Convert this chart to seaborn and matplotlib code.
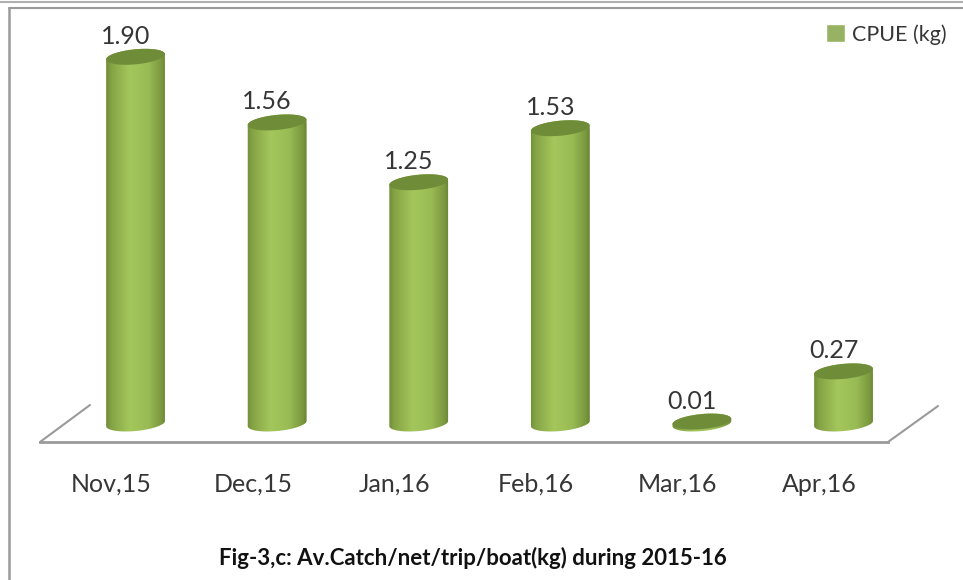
import numpy as np
import pandas as pd
import matplotlib
matplotlib.use("Agg")
import matplotlib.pyplot as plt
import seaborn as sns
from matplotlib.colors import LinearSegmentedColormap
from matplotlib.lines import Line2D
from matplotlib.patches import Polygon
from matplotlib.transforms import ScaledTranslation

# data
months = ["Nov,15", "Dec,15", "Jan,16", "Feb,16", "Mar,16", "Apr,16"]
cpue = [1.90, 1.56, 1.25, 1.53, 0.01, 0.27]
series_name = "CPUE (kg)"
title = "Fig-3,c: Av.Catch/net/trip/boat(kg) during 2015-16"

# pixel scale of the plot
W, H = 963, 580
STEP_PX = 141.6      # px between categories
UNIT_PX = 193.0      # px for one kg
X0_PX = 135.5        # px of first category
Y0_PX = 423.5        # px of zero

TEXT = "#363636"
FRAME = "#9a9a9a"
TOP_GREEN = "#6f8c38"
gradient = LinearSegmentedColormap.from_list(
    "cyl", [(0, "#6d8838"), (0.1, "#84a344"), (0.4, "#a4c75c"),
            (0.7, "#99bb54"), (0.92, "#7a973e"), (1, "#647d33")])

df = pd.DataFrame({"month": months, "cpue": cpue})

sns.set_theme(style="white")
plt.rcParams["font.family"] = ["Lato", "DejaVu Sans"]

fig = plt.figure(figsize=(W / 100, H / 100), dpi=100)
ax = fig.add_axes([0, 0, 1, 1])
ax.patch.set_alpha(0)

sns.barplot(data=df, x="month", y="cpue", color="#9bbf55", width=0.417,
            label=series_name, ax=ax)


def px_x(x):
    return (x - X0_PX) / STEP_PX


def px_y(y):
    return (Y0_PX - y) / UNIT_PX


def disc(xc, yc, t):
    # tilted ellipse end of a cylinder, in data units
    a, b, tilt = 29.5, 7.5, np.radians(5.5)
    dx = a * np.cos(t) * np.cos(tilt) - b * np.sin(t) * np.sin(tilt)
    dy = a * np.cos(t) * np.sin(tilt) + b * np.sin(t) * np.cos(tilt)
    return np.column_stack([xc + dx / STEP_PX, yc + dy / UNIT_PX])


bars = ax.containers[0]
for bar in bars:
    xc = bar.get_x() + bar.get_width() / 2
    h = bar.get_height()
    lower = disc(xc, 0, np.linspace(np.pi, 2 * np.pi, 40))
    upper = disc(xc, h, np.linspace(0, np.pi, 40))
    body = Polygon(np.vstack([lower, upper]), closed=True, fc="none", ec="none",
                   transform=ax.transData)
    ax.add_patch(body)
    bar.set_clip_path(body)
    img = ax.imshow(np.linspace(0, 1, 256).reshape(1, -1), cmap=gradient, aspect="auto",
                    extent=[bar.get_x() - 0.01, bar.get_x() + bar.get_width() + 0.01,
                            -0.1, h + 0.1], zorder=3)
    img.set_clip_path(body)
    ax.add_patch(Polygon(disc(xc, h, np.linspace(0, 2 * np.pi, 80)), closed=True,
                         fc=TOP_GREEN, ec="none", zorder=4))

labels = ax.bar_label(bars, fmt="%.2f", padding=6.5, fontsize=18, color=TEXT, zorder=5)
for t in labels:
    t.xyann = (-7.2, t.xyann[1])

# floor of the 3d chart
ax.set_xlim(px_x(0), px_x(W))
ax.set_ylim(px_y(H), px_y(0))
for side in ["top", "left", "right"]:
    ax.spines[side].set_visible(False)
floor = ax.spines["bottom"]
floor.set_position(("data", px_y(442)))
floor.set_bounds(px_x(40), px_x(888))
floor.set_color(FRAME)
floor.set_linewidth(2)
ax.plot([px_x(40), px_x(90)], [px_y(442), px_y(405)], color=FRAME, lw=1.5, zorder=1)
ax.plot([px_x(888), px_x(938)], [px_y(442), px_y(406)], color=FRAME, lw=1.5, zorder=1)

ax.set_xlabel("")
ax.set_ylabel("")
ax.set_yticks([])
ax.tick_params(axis="x", length=0, pad=22, labelsize=18, labelcolor=TEXT)
# category labels sit left of the cylinders in the original
shift = ScaledTranslation(-0.24, 0, fig.dpi_scale_trans)
for lab in ax.get_xticklabels():
    lab.set_transform(lab.get_transform() + shift)

ax.legend(loc="upper right", bbox_to_anchor=(1.003, 0.992), frameon=False, fontsize=15.5,
          handlelength=0.9, handleheight=0.9, handletextpad=0.3, labelcolor=TEXT)

fig.text(473 / W, 1 - 558 / H, title, ha="center", va="center", fontsize=16,
         fontweight="bold", color="#111111")

# page frame around the pasted chart
fig.add_artist(Line2D([0, 1], [1 - 1.5 / H] * 2, color="#b0b0b0", lw=1.5))
fig.add_artist(Line2D([9 / W, 1], [1 - 7.5 / H] * 2, color=FRAME, lw=1.5))
fig.add_artist(Line2D([9 / W, 9 / W], [0, 1 - 7.5 / H], color=FRAME, lw=1.8))

fig.savefig("out.png", dpi=100)
